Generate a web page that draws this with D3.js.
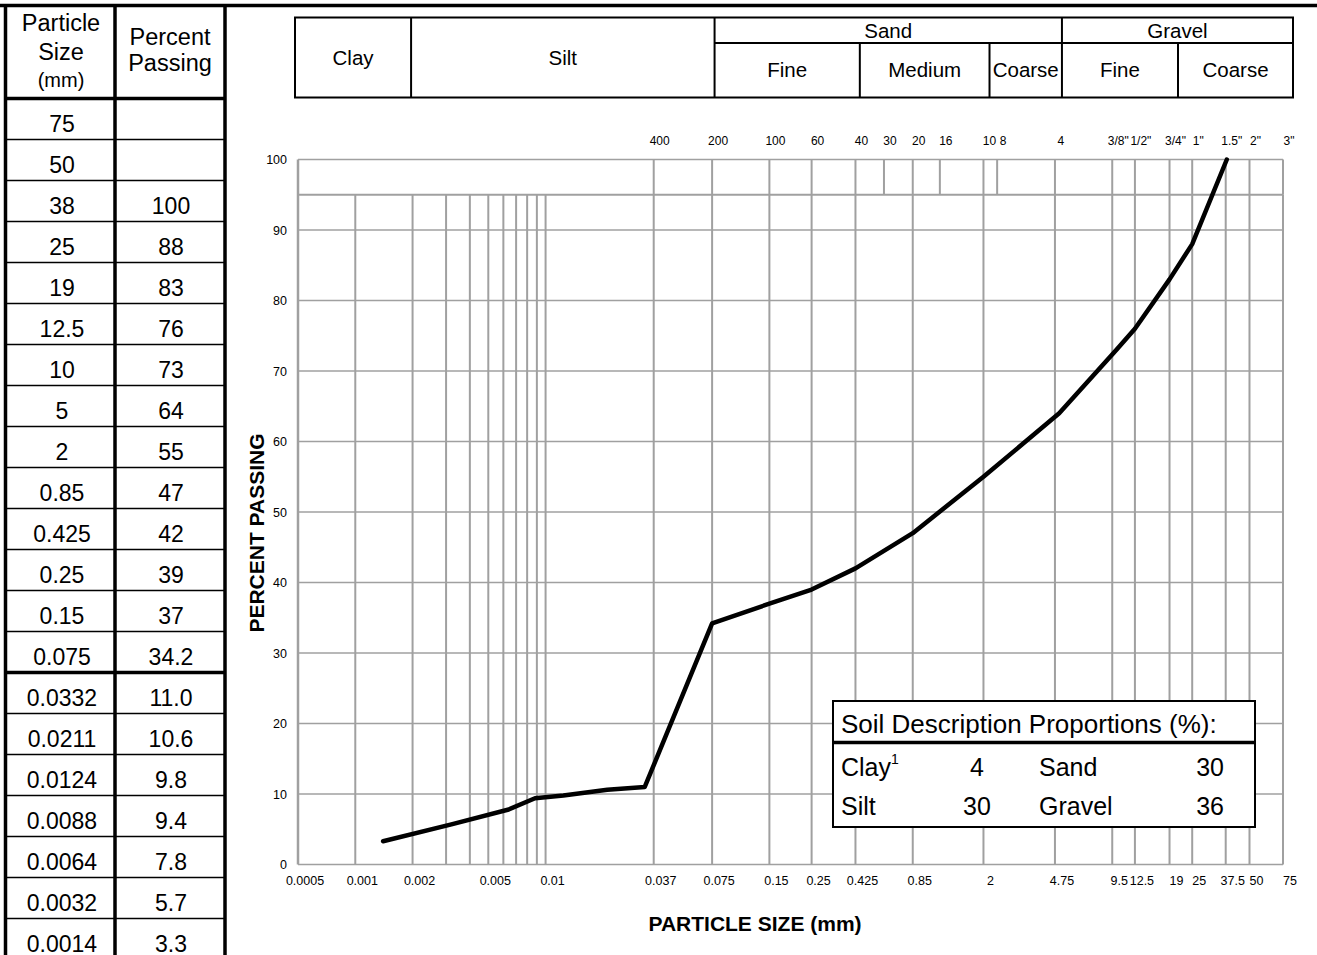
<!DOCTYPE html>
<html>
<head>
<meta charset="utf-8">
<script src="https://cdn.jsdelivr.net/npm/d3@7/dist/d3.min.js"></script>
<style>
body { margin: 0; background: #fff; }
text { font-family: "Liberation Sans", Arial, sans-serif; fill: #000; }
</style>
</head>
<body>
<div class="chart"></div>
<script>
// sieve results as listed in the side table
var sizeLabels = ["75", "50", "38", "25", "19", "12.5", "10", "5", "2", "0.85", "0.425", "0.25", "0.15", "0.075",
                  "0.0332", "0.0211", "0.0124", "0.0088", "0.0064", "0.0032", "0.0014"];
var percentLabels = ["", "", "100", "88", "83", "76", "73", "64", "55", "47", "42", "39", "37", "34.2",
                     "11.0", "10.6", "9.8", "9.4", "7.8", "5.7", "3.3"];

var sieveSizes = [0.037, 0.075, 0.15, 0.25, 0.425, 0.6, 0.85, 1.18, 2, 2.36, 4.75, 9.5, 12.5, 19, 25, 37.5, 50, 75];
var sieveNames = ["400", "200", "100", "60", "40", "30", "20", "16", "10", "8", "4",
                  "3/8\"", "1/2\"", "3/4\"", "1\"", "1.5\"", "2\"", "3\""];
var minorSizes = [0.001, 0.002, 0.003, 0.004, 0.005, 0.006, 0.007, 0.008, 0.009, 0.01];
var gridSizes = [0.037, 0.075, 0.15, 0.25, 0.425, 0.85, 2, 4.75, 9.5, 12.5, 19, 25, 37.5, 50, 75];
var tickSizes = [0.0005, 0.001, 0.002, 0.005, 0.01, 0.037, 0.075, 0.15, 0.25, 0.425, 0.85, 2, 4.75, 9.5, 12.5, 19, 25, 37.5, 50, 75];
var tickLabels = ["0.0005", "0.001", "0.002", "0.005", "0.01", "0.037", "0.075", "0.15", "0.25", "0.425", "0.85",
                  "2", "4.75", "9.5", "12.5", "19", "25", "37.5", "50", "75"];
var yTicks = [0, 10, 20, 30, 40, 50, 60, 70, 80, 90, 100];

var soilClasses = ["Clay", "Silt", "Sand", "Gravel"];
var classBounds = [0.0005, 0.002, 0.075, 4.75, 75];
var subClasses = ["Fine", "Medium", "Coarse", "Fine", "Coarse"];
var subBounds = [0.075, 0.425, 2, 4.75, 19, 75];

var propNamesLeft = ["Clay", "Silt"];
var propValuesLeft = [4, 30];
var propNamesRight = ["Sand", "Gravel"];
var propValuesRight = [30, 36];

var curveData = sizeLabels.map(function(s, i) {
  return {size: +s, pct: percentLabels[i] === "" ? null : +percentLabels[i]};
}).filter(function(d) { return d.pct !== null; });

var svgWidth = 1317;
var svgHeight = 955;
var gridColor = "#a0a0a0";

var svg = d3.select(".chart")
            .append("svg")
            .attr("width", svgWidth)
            .attr("height", svgHeight);

svg.append("rect").attr("width", svgWidth).attr("height", svgHeight).attr("fill", "#fff");

var x = d3.scaleLog().domain([0.0005, 75]).range([298, 1283]);
var y = d3.scaleLinear().domain([0, 100]).range([864.5, 159.5]);
var hx = d3.scaleLog().domain([0.0005, 75]).range([295, 1293]);

// ---- side table ----
var rowTop = 98.5, rowH = 41;
var table = svg.append("g");

table.selectAll("line.row")
    .data(sizeLabels)
    .enter()
    .append("line")
    .attr("x1", 5).attr("x2", 225)
    .attr("y1", function(d, i) { return rowTop + rowH * (i + 1); })
    .attr("y2", function(d, i) { return rowTop + rowH * (i + 1); })
    .attr("stroke", "#000")
    .attr("stroke-width", function(d, i) { return i === 13 ? 3.5 : 1.5; });

table.append("line").attr("x1", 5).attr("x2", 225).attr("y1", rowTop).attr("y2", rowTop)
    .attr("stroke", "#000").attr("stroke-width", 3.5);

[5.5, 115, 225].forEach(function(cx) {
  table.append("line").attr("x1", cx).attr("x2", cx).attr("y1", 4).attr("y2", svgHeight)
      .attr("stroke", "#000").attr("stroke-width", 3.5);
});

table.selectAll("text.size")
    .data(sizeLabels)
    .enter()
    .append("text")
    .text(function(d) { return d; })
    .attr("x", 62)
    .attr("y", function(d, i) { return rowTop + rowH * i + 33; })
    .attr("text-anchor", "middle")
    .attr("font-size", 23);

table.selectAll("text.pct")
    .data(percentLabels)
    .enter()
    .append("text")
    .text(function(d) { return d; })
    .attr("x", 171)
    .attr("y", function(d, i) { return rowTop + rowH * i + 33; })
    .attr("text-anchor", "middle")
    .attr("font-size", 23);

table.append("text").text("Particle").attr("x", 61).attr("y", 31).attr("text-anchor", "middle").attr("font-size", 23.5);
table.append("text").text("Size").attr("x", 61).attr("y", 60).attr("text-anchor", "middle").attr("font-size", 23.5);
table.append("text").text("(mm)").attr("x", 61).attr("y", 87).attr("text-anchor", "middle").attr("font-size", 20);
table.append("text").text("Percent").attr("x", 170).attr("y", 45).attr("text-anchor", "middle").attr("font-size", 23.5);
table.append("text").text("Passing").attr("x", 170).attr("y", 71).attr("text-anchor", "middle").attr("font-size", 23.5);

// top rule
svg.append("line").attr("x1", 0).attr("x2", svgWidth).attr("y1", 5.5).attr("y2", 5.5)
    .attr("stroke", "#000").attr("stroke-width", 3.5);

// ---- classification header ----
var head = svg.append("g");
var hTop = 17.5, hMid = 43, hBot = 97.5;

head.append("rect")
    .attr("x", hx(0.0005)).attr("y", hTop)
    .attr("width", hx(75) - hx(0.0005)).attr("height", hBot - hTop)
    .attr("fill", "none").attr("stroke", "#000").attr("stroke-width", 2);

head.selectAll("line.cls")
    .data(classBounds.slice(1, -1))
    .enter()
    .append("line")
    .attr("x1", function(d) { return hx(d); }).attr("x2", function(d) { return hx(d); })
    .attr("y1", hTop).attr("y2", hBot)
    .attr("stroke", "#000").attr("stroke-width", 2);

head.append("line")
    .attr("x1", hx(0.075)).attr("x2", hx(75)).attr("y1", hMid).attr("y2", hMid)
    .attr("stroke", "#000").attr("stroke-width", 2);

head.selectAll("line.sub")
    .data([0.425, 2, 19])
    .enter()
    .append("line")
    .attr("x1", function(d) { return hx(d); }).attr("x2", function(d) { return hx(d); })
    .attr("y1", hMid).attr("y2", hBot)
    .attr("stroke", "#000").attr("stroke-width", 2);

head.selectAll("text.cls")
    .data(soilClasses)
    .enter()
    .append("text")
    .text(function(d) { return d; })
    .attr("x", function(d, i) { return (hx(classBounds[i]) + hx(classBounds[i + 1])) / 2; })
    .attr("y", function(d, i) { return i < 2 ? 65 : 38; })
    .attr("text-anchor", "middle")
    .attr("font-size", 20.5);

head.selectAll("text.sub")
    .data(subClasses)
    .enter()
    .append("text")
    .text(function(d) { return d; })
    .attr("x", function(d, i) { return (hx(subBounds[i]) + hx(subBounds[i + 1])) / 2; })
    .attr("y", 77)
    .attr("text-anchor", "middle")
    .attr("font-size", 20.5);

// ---- grid ----
var grid = svg.append("g").attr("stroke", gridColor);

grid.selectAll("line.h")
    .data(yTicks.concat([95]))
    .enter()
    .append("line")
    .attr("x1", x(0.0005)).attr("x2", x(75))
    .attr("y1", function(d) { return y(d); }).attr("y2", function(d) { return y(d); })
    .attr("stroke-width", function(d) { return d === 95 ? 2 : 1.5; });

grid.selectAll("line.lower")
    .data(minorSizes.concat(gridSizes))
    .enter()
    .append("line")
    .attr("x1", function(d) { return x(d); }).attr("x2", function(d) { return x(d); })
    .attr("y1", y(0)).attr("y2", y(95))
    .attr("stroke-width", 2);

grid.selectAll("line.upper")
    .data(sieveSizes)
    .enter()
    .append("line")
    .attr("x1", function(d) { return x(d); }).attr("x2", function(d) { return x(d); })
    .attr("y1", y(95)).attr("y2", y(100))
    .attr("stroke-width", 2);

grid.append("line")
    .attr("x1", x(0.0005)).attr("x2", x(0.0005)).attr("y1", y(0)).attr("y2", y(100))
    .attr("stroke-width", 2.5);

// ---- axis labels ----
svg.selectAll("text.ytick")
    .data(yTicks)
    .enter()
    .append("text")
    .text(function(d) { return d; })
    .attr("x", 287)
    .attr("y", function(d) { return y(d) + 4.5; })
    .attr("text-anchor", "end")
    .attr("font-size", 12.5);

svg.selectAll("text.xtick")
    .data(tickSizes)
    .enter()
    .append("text")
    .text(function(d, i) { return tickLabels[i]; })
    .attr("x", function(d) { return x(d) + 7; })
    .attr("y", 884.5)
    .attr("text-anchor", "middle")
    .attr("font-size", 12.5);

svg.selectAll("text.sieve")
    .data(sieveSizes)
    .enter()
    .append("text")
    .text(function(d, i) { return sieveNames[i]; })
    .attr("x", function(d) { return x(d) + 6; })
    .attr("y", 144.5)
    .attr("text-anchor", "middle")
    .attr("font-size", 12);

svg.append("text")
    .text("PARTICLE SIZE (mm)")
    .attr("x", 755).attr("y", 931)
    .attr("text-anchor", "middle")
    .attr("font-size", 21)
    .attr("font-weight", "bold");

svg.append("text")
    .text("PERCENT PASSING")
    .attr("transform", "translate(263.5,533) rotate(-90)")
    .attr("text-anchor", "middle")
    .attr("font-size", 21)
    .attr("font-weight", "bold");

// ---- gradation curve ----
var line = d3.line()
    .x(function(d) { return x(d.size); })
    .y(function(d) { return y(d.pct); });

svg.append("path")
    .datum(curveData)
    .attr("d", line)
    .attr("fill", "none")
    .attr("stroke", "#000")
    .attr("stroke-width", 4.5)
    .attr("stroke-linejoin", "round")
    .attr("stroke-linecap", "round");

// ---- proportions box ----
var box = svg.append("g");
box.append("rect")
    .attr("x", 833).attr("y", 701).attr("width", 422).attr("height", 126)
    .attr("fill", "#fff").attr("stroke", "#000").attr("stroke-width", 2);
box.append("line")
    .attr("x1", 833).attr("x2", 1255).attr("y1", 742.5).attr("y2", 742.5)
    .attr("stroke", "#000").attr("stroke-width", 3.5);
box.append("text")
    .text("Soil Description Proportions (%):")
    .attr("x", 841).attr("y", 733)
    .attr("font-size", 26);

var rowY = [776, 815];
box.selectAll("text.pl")
    .data(propNamesLeft)
    .enter()
    .append("text")
    .attr("x", 841)
    .attr("y", function(d, i) { return rowY[i]; })
    .attr("font-size", 25)
    .each(function(d, i) {
      d3.select(this).append("tspan").text(d);
      if (i === 0) {
        d3.select(this).append("tspan").text("1").attr("font-size", 14).attr("dy", -12);
      }
    });
box.selectAll("text.vl")
    .data(propValuesLeft)
    .enter()
    .append("text")
    .text(function(d) { return d; })
    .attr("x", 977)
    .attr("y", function(d, i) { return rowY[i]; })
    .attr("text-anchor", "middle")
    .attr("font-size", 25);
box.selectAll("text.pr")
    .data(propNamesRight)
    .enter()
    .append("text")
    .text(function(d) { return d; })
    .attr("x", 1039)
    .attr("y", function(d, i) { return rowY[i]; })
    .attr("font-size", 25);
box.selectAll("text.vr")
    .data(propValuesRight)
    .enter()
    .append("text")
    .text(function(d) { return d; })
    .attr("x", 1224)
    .attr("y", function(d, i) { return rowY[i]; })
    .attr("text-anchor", "end")
    .attr("font-size", 25);
</script>
</body>
</html>
